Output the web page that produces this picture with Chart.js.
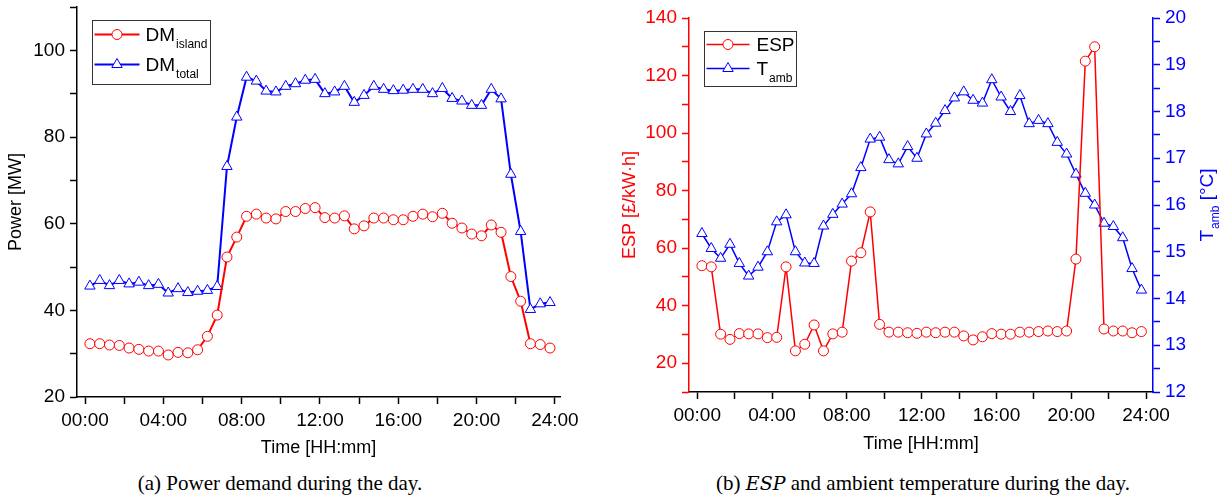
<!DOCTYPE html>
<html>
<head>
<meta charset="utf-8">
<script src="https://cdn.jsdelivr.net/npm/chart.js@4.4.1/dist/chart.umd.min.js"></script>
<style>
  html, body { margin: 0; padding: 0; background: #fff; width: 1225px; height: 501px; overflow: hidden; }
  .wrap { position: absolute; top: 0; height: 470px; }
  #wrapA { left: 0; width: 600px; }
  #wrapB { left: 605px; width: 620px; }
  .cap { position: absolute; top: 471px; line-height: 24px; font-family: 'Liberation Serif', 'Times New Roman', serif;
         font-size: 21px; color: #000; white-space: nowrap; transform: translateX(-50%); }
  .cap i { font-family: 'DejaVu Serif', 'Liberation Serif', serif; font-size: 19px; }
</style>
</head>
<body>
<div class="wrap" id="wrapA"><canvas id="powerChart" width="600" height="470" style="width:600px;height:470px"></canvas></div>
<div class="wrap" id="wrapB"><canvas id="espChart" width="620" height="470" style="width:620px;height:470px"></canvas></div>
<div class="cap" style="left:280px">(a) Power demand during the day.</div>
<div class="cap" style="left:923px">(b) <i>ESP</i> and ambient temperature during the day.</div>

<script>
// half-hourly samples (hours of the day)
const times = [0.25, 0.75, 1.25, 1.75, 2.25, 2.75, 3.25, 3.75, 4.25, 4.75, 5.25, 5.75,
               6.25, 6.75, 7.25, 7.75, 8.25, 8.75, 9.25, 9.75, 10.25, 10.75, 11.25, 11.75,
               12.25, 12.75, 13.25, 13.75, 14.25, 14.75, 15.25, 15.75, 16.25, 16.75, 17.25, 17.75,
               18.25, 18.75, 19.25, 19.75, 20.25, 20.75, 21.25, 21.75, 22.25, 22.75, 23.25, 23.75];

// (a) power demand [MW]
const dmIsland = [32.3, 32.3, 32.0, 31.9, 31.3, 31.0, 30.6, 30.6, 29.7, 30.3, 30.2, 30.9,
                  34.0, 38.9, 52.3, 56.9, 61.7, 62.2, 61.3, 61.1, 62.8, 62.8, 63.5, 63.7,
                  61.4, 61.3, 61.8, 58.8, 59.5, 61.3, 61.3, 60.9, 60.9, 61.7, 62.2, 61.6,
                  62.4, 60.1, 59.0, 57.6, 57.2, 59.7, 58.0, 47.8, 42.1, 32.3, 32.1, 31.3];
const dmTotal  = [45.6, 46.9, 45.7, 46.9, 46.1, 46.5, 45.7, 46.0, 44.0, 45.0, 44.1, 44.4,
                  44.6, 45.5, 73.2, 84.6, 93.8, 92.9, 90.6, 90.4, 91.7, 92.3, 93.1, 93.3,
                  90.0, 90.4, 91.7, 88.0, 89.6, 91.7, 91.0, 90.7, 90.8, 91.0, 91.0, 90.0,
                  91.2, 88.9, 88.3, 87.3, 87.3, 91.0, 88.8, 71.4, 58.2, 40.2, 41.5, 41.8];

// (b) ESP [£/kW·h] and ambient temperature [°C]
const esp  = [53.9, 53.5, 30.1, 28.3, 30.3, 30.2, 30.2, 28.9, 29.0, 53.5, 24.3, 26.6,
              33.3, 24.3, 30.2, 30.8, 55.5, 58.4, 72.6, 33.5, 30.8, 30.8, 30.6, 30.4,
              30.8, 30.6, 30.8, 30.8, 29.5, 28.1, 29.2, 30.3, 30.1, 30.1, 30.8, 30.8,
              31.0, 31.2, 31.0, 31.2, 56.2, 125.0, 130.0, 31.9, 31.2, 31.2, 30.6, 31.0];
const tamb = [15.39, 15.07, 14.86, 15.16, 14.75, 14.48, 14.67, 15.00, 15.64, 15.79, 15.00, 14.76,
              14.75, 15.55, 15.80, 16.02, 16.24, 16.80, 17.41, 17.45, 16.97, 16.88, 17.25, 17.00,
              17.52, 17.75, 18.02, 18.29, 18.42, 18.24, 18.18, 18.68, 18.31, 18.00, 18.34, 17.74,
              17.81, 17.74, 17.34, 17.09, 16.66, 16.25, 16.00, 15.61, 15.54, 15.30, 14.64, 14.18];

// axis ticks (every tick gets a mark, only some get a label)
const hourTicks  = [0, 2, 4, 6, 8, 10, 12, 14, 16, 18, 20, 22, 24];
const hourLabels = ['00:00', '', '04:00', '', '08:00', '', '12:00', '', '16:00', '', '20:00', '', '24:00'];
const powerTicks  = [20, 30, 40, 50, 60, 70, 80, 90, 100, 110];
const powerLabels = ['20', '', '40', '', '60', '', '80', '', '100', ''];
const espTicks  = [10, 20, 30, 40, 50, 60, 70, 80, 90, 100, 110, 120, 130, 140];
const espLabels = ['', '20', '', '40', '', '60', '', '80', '', '100', '', '120', '', '140'];
const tempTicks  = [12, 12.5, 13, 13.5, 14, 14.5, 15, 15.5, 16, 16.5, 17, 17.5, 18, 18.5, 19, 19.5, 20];
const tempLabels = ['12', '', '13', '', '14', '', '15', '', '16', '', '17', '', '18', '', '19', '', '20'];

const SANS = "'Liberation Sans', Arial, sans-serif";
const RED = '#ff0000', BLUE = '#0000ff';

const pts = ys => times.map((t, i) => ({ x: t, y: ys[i] }));

// fixed axis box so the plot area lands where the figure has it
const fixBox = (w, h) => s => {
  if (w != null) s.width = w;
  if (h != null) s.height = h;
  s.paddingTop = s.paddingBottom = s.paddingLeft = s.paddingRight = 0;
};
const useTicks = list => s => { s.ticks = list.map(v => ({ value: v })); };

function axis(color, ticks, labels, extra) {
  return Object.assign({
    afterBuildTicks: useTicks(ticks),
    ticks: { font: { family: SANS, size: 19 }, color, padding: 5, autoSkip: false, maxRotation: 0,
             callback: (v, i) => labels[i] },
    grid: { drawOnChartArea: false, tickLength: 7, tickColor: color, tickWidth: 1.5 },
    border: { color, width: 1.5 },
  }, extra);
}

function drawMarker(ctx, style, r, x, y) {
  ctx.beginPath();
  if (style === 'triangle') {
    ctx.moveTo(x, y - r);
    ctx.lineTo(x + r * 0.866, y + r / 2);
    ctx.lineTo(x - r * 0.866, y + r / 2);
    ctx.closePath();
  } else {
    ctx.arc(x, y, r, 0, Math.PI * 2);
  }
  ctx.fill();
  ctx.stroke();
}

// legend with subscripts
const subLegend = {
  id: 'subLegend',
  afterDraw(chart, args, o) {
    const { ctx, chartArea } = chart;
    const x0 = Math.round(chartArea.left + o.dx) + 0.5, y0 = Math.round(chartArea.top + o.dy) + 0.5;
    ctx.save();
    ctx.strokeStyle = '#333'; ctx.lineWidth = 1;
    ctx.strokeRect(x0, y0, o.w, o.h);
    o.items.forEach((it, i) => {
      const ds = chart.data.datasets[i];
      const cy = y0 + o.rowTop + i * o.rowGap;
      ctx.strokeStyle = ds.borderColor; ctx.lineWidth = ds.borderWidth;
      ctx.beginPath(); ctx.moveTo(x0 + o.lineX, cy); ctx.lineTo(x0 + o.lineX + o.lineW, cy); ctx.stroke();
      ctx.fillStyle = '#fff'; ctx.lineWidth = 1;
      drawMarker(ctx, ds.pointStyle, ds.pointRadius, x0 + o.lineX + o.lineW / 2, cy);
      ctx.fillStyle = '#000'; ctx.textBaseline = 'alphabetic'; ctx.textAlign = 'left';
      ctx.font = `19px ${SANS}`;
      ctx.fillText(it.main, x0 + o.textX, cy + 6.5);
      if (it.sub) {
        const w = ctx.measureText(it.main).width;
        ctx.font = `12px ${SANS}`;
        ctx.fillText(it.sub, x0 + o.textX + w + 1, cy + 13.5);
      }
    });
    ctx.restore();
  }
};

// rotated axis title with a subscript
const subTitle = {
  id: 'subTitle',
  afterDraw(chart, args, o) {
    if (!o.main) return;
    const { ctx, chartArea } = chart;
    const cy = (chartArea.top + chartArea.bottom) / 2;
    ctx.save();
    ctx.translate(o.x, cy);
    ctx.rotate(-Math.PI / 2);
    ctx.fillStyle = o.color; ctx.textBaseline = 'alphabetic'; ctx.textAlign = 'left';
    ctx.font = `19px ${SANS}`;
    const w1 = ctx.measureText(o.main).width, w3 = ctx.measureText(o.rest).width;
    ctx.font = `12px ${SANS}`;
    const w2 = ctx.measureText(o.sub).width;
    let x = -(w1 + w2 + w3 + 1) / 2;
    ctx.font = `19px ${SANS}`;
    ctx.fillText(o.main, x, 0); x += w1 + 1;
    ctx.font = `12px ${SANS}`;
    ctx.fillText(o.sub, x, 6); x += w2;
    ctx.font = `19px ${SANS}`;
    ctx.fillText(o.rest, x, 0);
    ctx.restore();
  }
};

const common = { responsive: false, animation: false, events: [] };

new Chart(document.getElementById('powerChart'), {
  type: 'line',
  data: {
    datasets: [
      { label: 'DM island', data: pts(dmIsland), borderColor: RED, borderWidth: 2,
        pointStyle: 'circle', pointRadius: 5, pointBorderWidth: 1, pointBorderColor: RED, pointBackgroundColor: '#fff' },
      { label: 'DM total', data: pts(dmTotal), borderColor: BLUE, borderWidth: 2,
        pointStyle: 'triangle', pointRadius: 6, pointBorderWidth: 1, pointBorderColor: BLUE, pointBackgroundColor: '#fff' },
    ]
  },
  options: {
    ...common,
    layout: { padding: { left: 0, top: 6, right: 40, bottom: 0 } },
    plugins: {
      legend: { display: false }, tooltip: { enabled: false },
      subLegend: { dx: 15, dy: 13, w: 118, h: 64, rowTop: 14, rowGap: 30, lineX: 2, lineW: 45, textX: 53,
                   items: [{ main: 'DM', sub: 'island' }, { main: 'DM', sub: 'total' }] },
    },
    scales: {
      x: axis('#000', hourTicks, hourLabels, {
        type: 'linear', min: -0.41, max: 24.26,
        title: { display: true, text: 'Time [HH:mm]', color: '#000', font: { family: SANS, size: 18 }, padding: { top: 0, bottom: 11 } },
        afterFit: fixBox(null, 73),
      }),
      y: axis('#000', powerTicks, powerLabels, {
        min: 20, max: 110,
        title: { display: true, text: 'Power [MW]', color: '#000', font: { family: SANS, size: 18 }, padding: { top: 5, bottom: 0 } },
        afterFit: fixBox(77, null),
      }),
    }
  },
  plugins: [subLegend]
});

new Chart(document.getElementById('espChart'), {
  type: 'line',
  data: {
    datasets: [
      { label: 'ESP', data: pts(esp), yAxisID: 'y', borderColor: RED, borderWidth: 1.5,
        pointStyle: 'circle', pointRadius: 5, pointBorderWidth: 1, pointBorderColor: RED, pointBackgroundColor: '#fff' },
      { label: 'T amb', data: pts(tamb), yAxisID: 'y1', borderColor: BLUE, borderWidth: 1.5,
        pointStyle: 'triangle', pointRadius: 6, pointBorderWidth: 1, pointBorderColor: BLUE, pointBackgroundColor: '#fff' },
    ]
  },
  options: {
    ...common,
    layout: { padding: { left: 0, top: 18, right: 0, bottom: 0 } },
    plugins: {
      legend: { display: false }, tooltip: { enabled: false },
      subLegend: { dx: 15, dy: 13, w: 92, h: 55, rowTop: 13, rowGap: 24, lineX: 2, lineW: 43, textX: 52,
                   items: [{ main: 'ESP' }, { main: 'T', sub: 'amb' }] },
      subTitle: { x: 608, color: BLUE, main: 'T', sub: 'amb', rest: ' [°C]' },
    },
    scales: {
      x: axis('#000', hourTicks, hourLabels, {
        type: 'linear', min: -0.44, max: 24.37,
        title: { display: true, text: 'Time [HH:mm]', color: '#000', font: { family: SANS, size: 18 }, padding: { top: 0, bottom: 15 } },
        afterFit: fixBox(null, 78),
      }),
      y: axis(RED, espTicks, espLabels, {
        position: 'left', min: 10, max: 140,
        title: { display: true, text: 'ESP [£/kW·h]', color: RED, font: { family: SANS, size: 18 }, padding: { top: 14, bottom: 0 } },
        afterFit: fixBox(84, null),
      }),
      y1: axis(BLUE, tempTicks, tempLabels, {
        position: 'right', min: 12, max: 20,
        afterFit: fixBox(72, null),
      }),
    }
  },
  plugins: [subLegend, subTitle]
});
</script>
</body>
</html>
